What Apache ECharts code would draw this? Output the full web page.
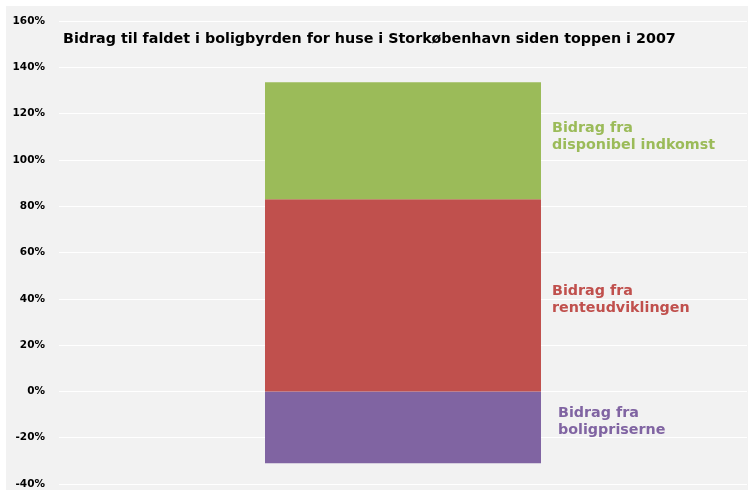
<!DOCTYPE html>
<html>
<head>
<meta charset="utf-8">
<script src="https://cdn.jsdelivr.net/npm/echarts@6/dist/echarts.min.js"></script>
<style>
  html, body { margin: 0; padding: 0; background: #fff; }
  #chart { width: 751px; height: 492px; }
</style>
</head>
<body>
<div id="chart"></div>
<script>
// data
const categories = ['Storkøbenhavn'];
const boligpriser = [-31];
const renteudvikling = [83];
const indkomst = [50.5];
const seriesNames = ['Bidrag fra\nboligpriserne', 'Bidrag fra\nrenteudviklingen', 'Bidrag fra\ndisponibel indkomst'];
const colors = ['#8064a2', '#c0504d', '#9bbb59'];

const font = '"DejaVu Sans", sans-serif';

function makeSeries(name, data, color, offset) {
    return {
        name: name,
        type: 'bar',
        stack: 'total',
        data: data,
        barWidth: 276,
        itemStyle: { color: color },
        label: {
            show: true,
            position: 'right',
            distance: 10,
            offset: offset,
            formatter: name,
            color: color,
            fontFamily: font,
            fontWeight: 'bold',
            fontSize: 14.3,
            lineHeight: 17,
            align: 'left'
        }
    };
}

const chart = echarts.init(document.getElementById('chart'));
chart.setOption({
    animation: false,
    backgroundColor: '#fff',
    graphic: [{
        type: 'rect',
        z: -10,
        shape: { x: 6, y: 6, width: 742, height: 484 },
        style: { fill: '#f2f2f2' }
    }],
    title: {
        text: 'Bidrag til faldet i boligbyrden for huse i Storkøbenhavn siden toppen i 2007',
        left: 63,
        top: 32,
        padding: 0,
        textStyle: { fontFamily: font, fontWeight: 'bold', fontSize: 14.3, color: '#000' }
    },
    grid: { left: 59, right: 4, top: 21, bottom: 8 },
    xAxis: {
        type: 'category',
        data: categories,
        axisLine: { show: false },
        axisTick: { show: false },
        axisLabel: { show: false }
    },
    yAxis: {
        type: 'value',
        min: -40,
        max: 160,
        interval: 20,
        axisLine: { show: false },
        axisTick: { show: false },
        axisLabel: {
            formatter: '{value}%',
            margin: 14,
            color: '#000',
            fontFamily: font,
            fontWeight: 'bold',
            fontSize: 10.5
        },
        splitLine: { lineStyle: { color: '#ffffff', width: 1 } }
    },
    series: [
        makeSeries(seriesNames[0], boligpriser, colors[0], [7, -5]),
        makeSeries(seriesNames[1], renteudvikling, colors[1], [1, 4]),
        makeSeries(seriesNames[2], indkomst, colors[2], [1, -4])
    ]
});
</script>
</body>
</html>
